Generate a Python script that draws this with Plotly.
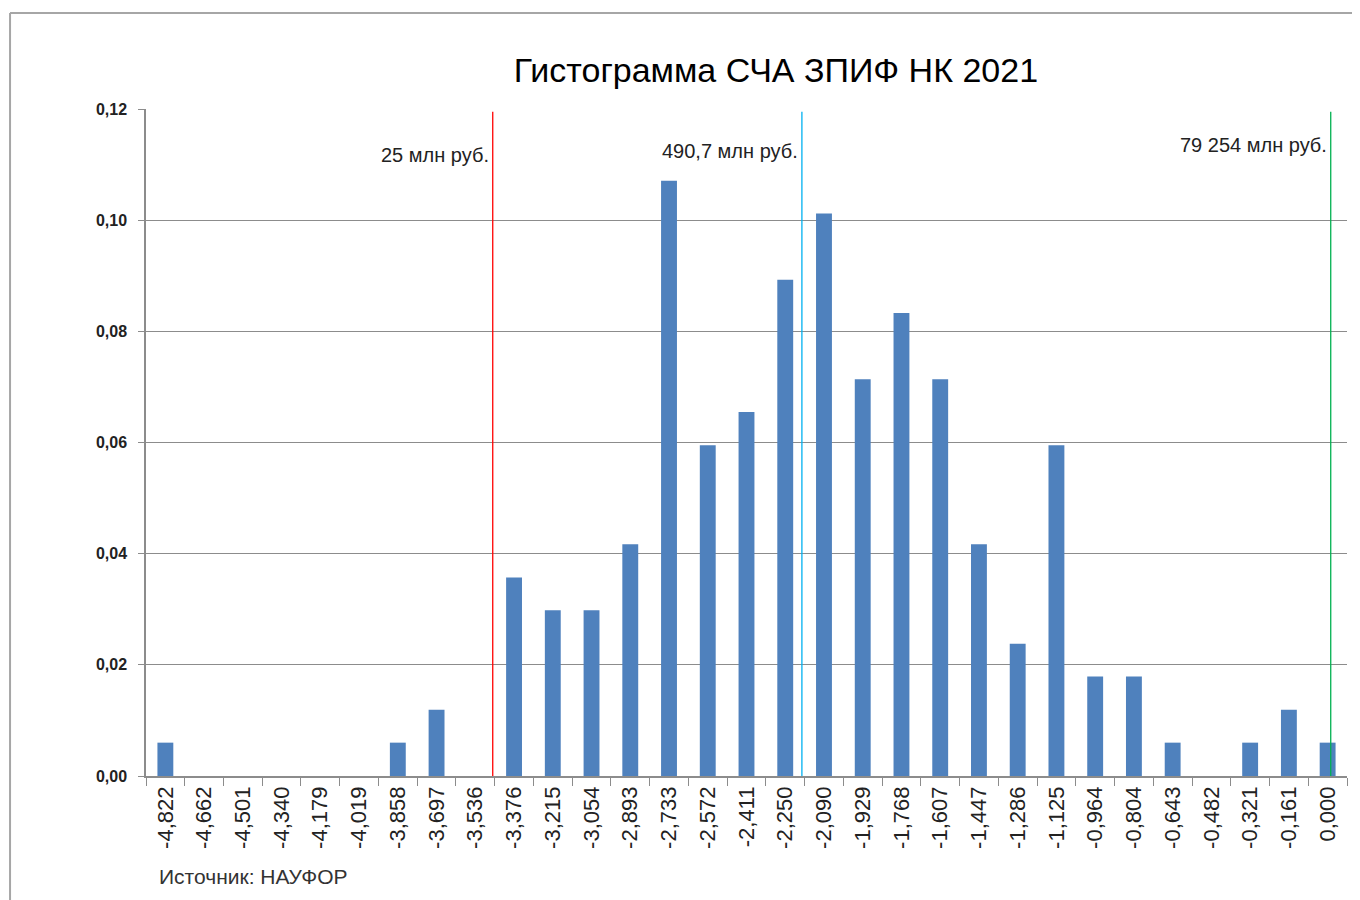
import plotly.graph_objects as go

# histogram bins (log scale) and share of funds in each bin
bins = ['-4,822', '-4,662', '-4,501', '-4,340', '-4,179', '-4,019', '-3,858', '-3,697',
        '-3,536', '-3,376', '-3,215', '-3,054', '-2,893', '-2,733', '-2,572', '-2,411',
        '-2,250', '-2,090', '-1,929', '-1,768', '-1,607', '-1,447', '-1,286', '-1,125',
        '-0,964', '-0,804', '-0,643', '-0,482', '-0,321', '-0,161', '0,000']
shares = [0.0060, 0, 0, 0, 0, 0, 0.0060, 0.0119,
          0, 0.0357, 0.0298, 0.0298, 0.0417, 0.1071, 0.0595, 0.0655,
          0.0893, 0.1012, 0.0714, 0.0833, 0.0714, 0.0417, 0.0238, 0.0595,
          0.0179, 0.0179, 0.0060, 0, 0.0060, 0.0119, 0.0060]

# reference lines: position on the bin axis, label, colour
mark_pos = [8.45, 16.43, 30.08]
mark_text = ['25 млн руб.', '490,7 млн руб.', '79 254 млн руб.']
mark_color = ['#ff0000', '#00b0f0', '#00b050']
mark_label_y = [0.1118, 0.1125, 0.1136]

fig = go.Figure()

fig.add_trace(go.Bar(
    x=bins,
    y=shares,
    marker=dict(color='#4f81bd', line=dict(width=0)),
    showlegend=False
))

# vertical lines with labels
for pos, txt, col, ly in zip(mark_pos, mark_text, mark_color, mark_label_y):
    fig.add_shape(type='line', xref='x', yref='y', x0=pos, x1=pos, y0=0, y1=0.1195,
                  line=dict(color=col, width=1.3))
    fig.add_annotation(x=pos, y=ly, xref='x', yref='y', text=txt, showarrow=False,
                       xanchor='right', yanchor='middle', xshift=-2,
                       font=dict(family='Liberation Sans, Arial', size=20, color='#222222'))

# outer frame (left and top only)
fig.add_shape(type='line', xref='paper', yref='paper', x0=-0.1132, x1=1.02, y0=1.1439, y1=1.1439,
              line=dict(color='#a6a6a6', width=2))
fig.add_shape(type='line', xref='paper', yref='paper', x0=-0.1132, x1=-0.1132, y0=1.1439, y1=-0.19,
              line=dict(color='#a6a6a6', width=2))

# source note
fig.add_annotation(x=0.009, y=-0.15, xref='paper', yref='paper', text='Источник: НАУФОР',
                   showarrow=False, xanchor='left', yanchor='middle',
                   font=dict(family='Liberation Sans, Arial', size=21, color='#333333'))

fig.update_layout(
    width=1352, height=892,
    margin=dict(l=138, r=13, t=101, b=124),
    paper_bgcolor='white', plot_bgcolor='white',
    separators=', ',
    bargap=0.59,
    title=dict(text='Гистограмма СЧА ЗПИФ НК 2021', x=0.568, xref='container', xanchor='center',
               y=0.9305, yref='container', yanchor='middle',
               font=dict(family='Liberation Sans, Arial', size=34, color='#000000')),
    xaxis=dict(type='category', range=[-0.5, 30.5], tickangle=-90, tickson='boundaries',
               ticks='outside', ticklen=8, tickcolor='#8c8c8c', showline=True,
               linecolor='#8c8c8c', linewidth=1.5, showgrid=False,
               tickfont=dict(family='Liberation Sans, Arial', size=22, color='#222222')),
    yaxis=dict(range=[0, 0.12], dtick=0.02, tickformat='.2f', ticks='outside', ticklen=6,
               ticklabelstandoff=8,
               tickcolor='#8c8c8c', showline=True, linecolor='#8c8c8c', linewidth=1.5,
               showgrid=True, gridcolor='#8c8c8c', gridwidth=1, zeroline=False,
               tickfont=dict(family='Liberation Sans, Arial', size=16, color='#222222', weight='bold'))
)

fig.write_html("out.html")
